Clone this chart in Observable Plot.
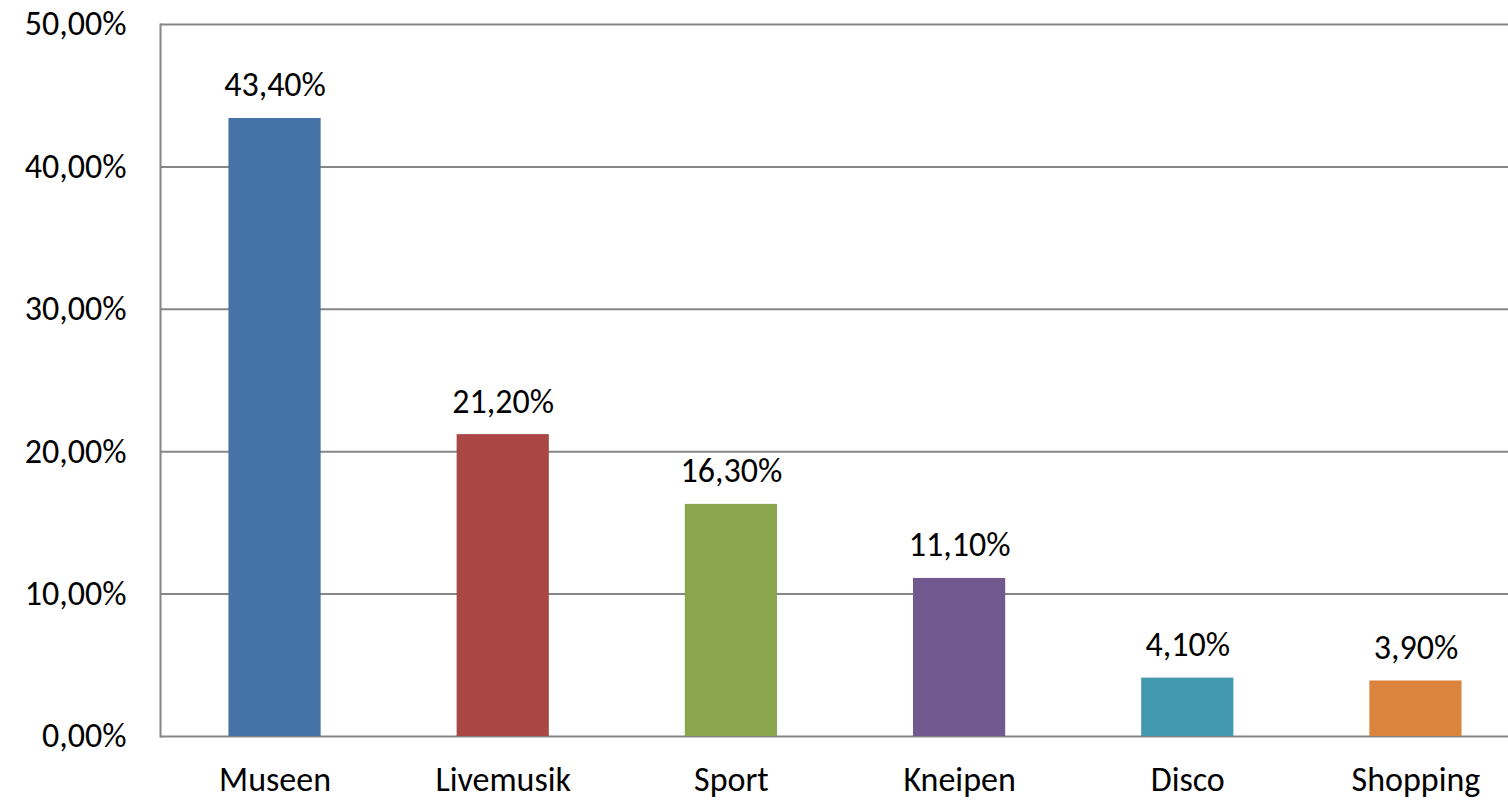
<!DOCTYPE html>
<html>
<head>
<meta charset="utf-8">
<script src="https://cdn.jsdelivr.net/npm/d3@7"></script>
<script src="https://cdn.jsdelivr.net/npm/@observablehq/plot@0.6"></script>
<style>
  html, body { margin: 0; padding: 0; background: #fff; }
  #chart { width: 1508px; height: 802px; overflow: hidden; }
</style>
</head>
<body>
<div id="chart"></div>
<script>
const categories = ["Museen", "Livemusik", "Sport", "Kneipen", "Disco", "Shopping"];
const values = [0.434, 0.212, 0.163, 0.111, 0.041, 0.039];
const colors = ["#4572A7", "#AA4643", "#89A54E", "#71588F", "#4198AF", "#DB843D"];
const yTicks = [0, 0.1, 0.2, 0.3, 0.4, 0.5];

const fmt = d => (d * 100).toFixed(2).replace(".", ",") + "%";
const data = categories.map((c, i) => ({category: c, value: values[i], color: colors[i]}));

const gray = "#868686";
const font = "Carlito, Calibri, Lato, sans-serif";
const fs = 34;

const chart = Plot.plot({
  width: 1508,
  height: 802,
  marginLeft: 160,
  marginRight: 0,
  marginTop: 24,
  marginBottom: 66,
  style: {fontFamily: font, fontSize: fs + "px", color: "#000", background: "#fff"},
  x: {domain: categories, range: [160, 1530], round: false, paddingInner: 0.596, paddingOuter: 0.3, label: null},
  y: {domain: [0, 0.5], label: null},
  marks: [
    Plot.ruleY(yTicks, {stroke: gray, strokeWidth: 2}),
    Plot.frame({anchor: "left", stroke: gray, strokeWidth: 2}),
    Plot.barY(data, {x: "category", y: "value", fill: "color"}),
    Plot.text(data, {x: "category", y: "value", text: d => fmt(d.value), dy: -22, lineAnchor: "bottom", fontSize: fs, fill: "#000"}),
    Plot.axisY({ticks: yTicks, tickFormat: fmt, tickSize: 0, tickPadding: 34, fontSize: fs, label: null, fill: "#000"}),
    Plot.axisX({tickSize: 0, tickPadding: 30, fontSize: fs, label: null, fill: "#000"})
  ]
});
document.getElementById("chart").appendChild(chart);
</script>
</body>
</html>
